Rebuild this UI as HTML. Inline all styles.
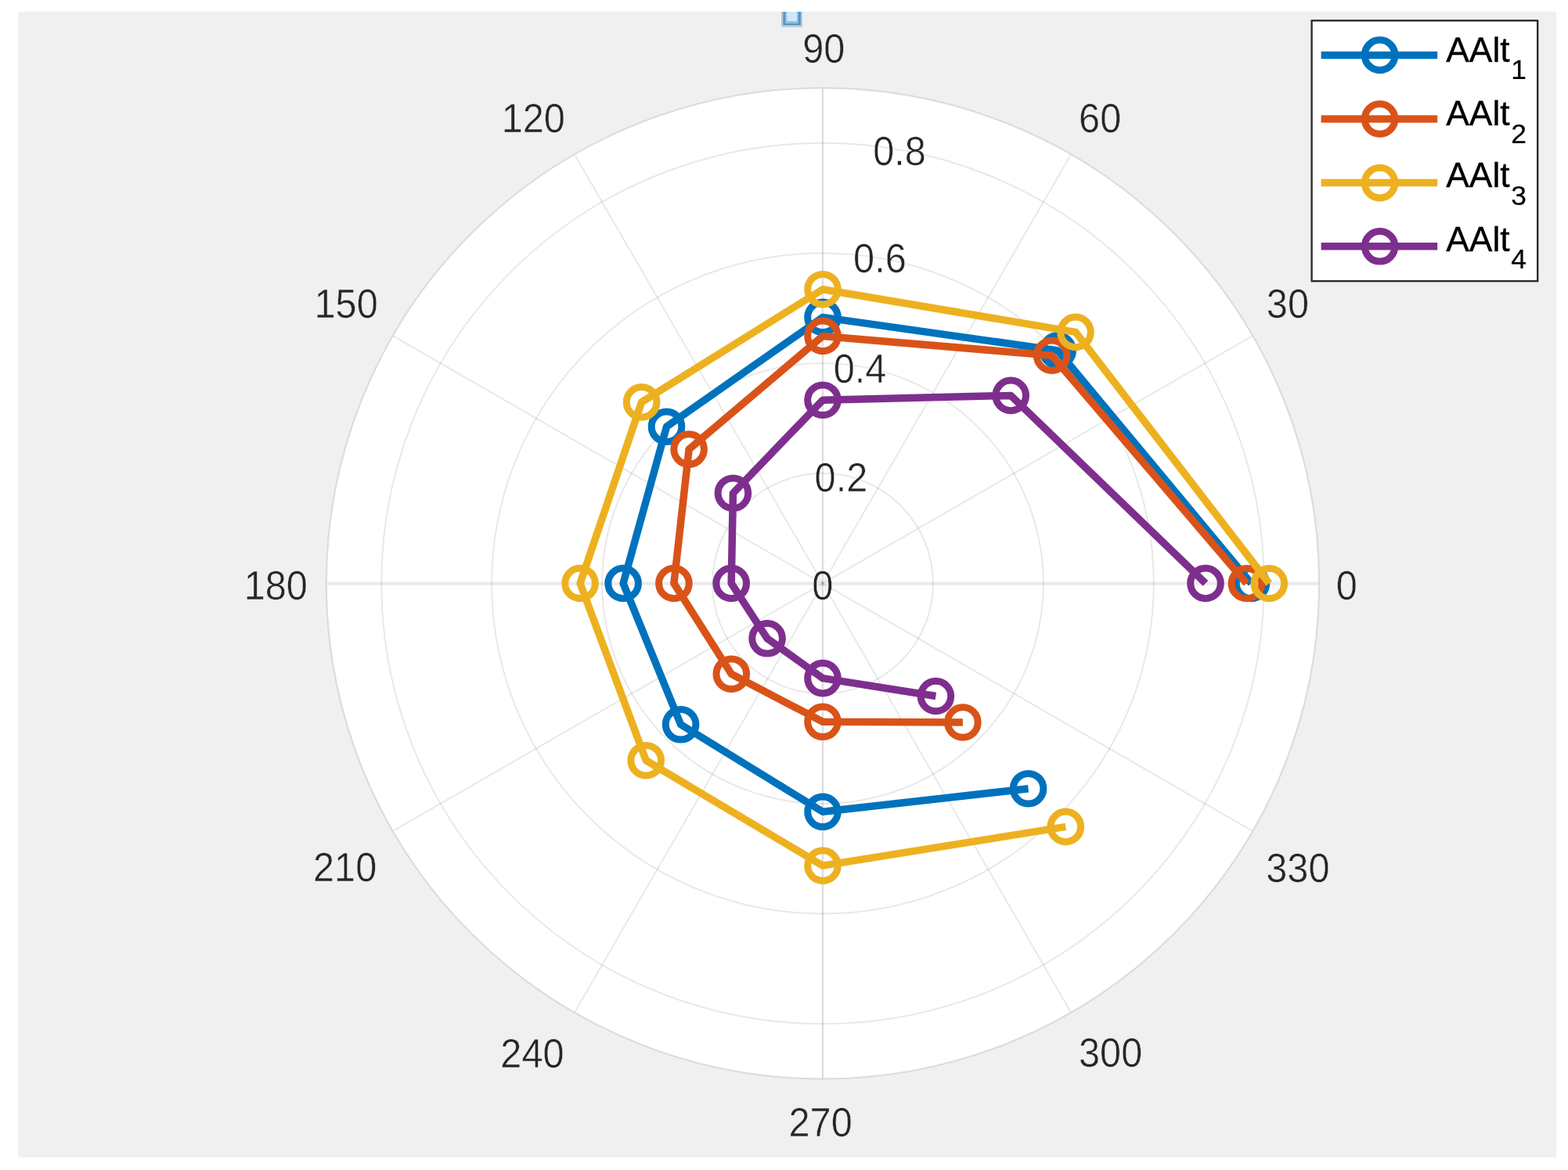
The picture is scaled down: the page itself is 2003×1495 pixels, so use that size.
<!DOCTYPE html>
<html lang="en"><head><meta charset="utf-8"><title>Polar plot</title>
<style>
html,body{margin:0;padding:0;background:#fff;}
body{width:2003px;height:1495px;overflow:hidden;position:relative;}
svg{position:absolute;left:0;top:0;display:block;}
text{font-family:"Liberation Sans",Arial,Helvetica,sans-serif;}
.tick{font-size:51px;fill:#262626;text-anchor:middle;stroke:#f0f0f0;stroke-width:0.5px;}
.rt{stroke:#fff;}
.leg{font-size:44px;fill:#000;stroke:#000;stroke-width:0.35px;}
.sub{font-size:35px;fill:#000;stroke:#000;stroke-width:0.2px;}
</style></head><body>
<svg width="2003" height="1495" viewBox="0 0 2003 1495">
<defs><clipPath id="figclip"><rect x="23" y="15" width="1965" height="1464"/></clipPath>
</defs>
<g>
<rect x="23" y="15" width="1965" height="1464" fill="#f0f0f0"/>
<g clip-path="url(#figclip)"><rect x="998" y="10" width="26.9" height="24.6" fill="#b4cade"/><rect x="1000.4" y="10" width="22.5" height="22.1" fill="#5a92bd"/><rect x="1003.05" y="10" width="16.85" height="20.1" fill="#93bfdf"/><rect x="1005.3" y="10" width="12.6" height="17.1" fill="#cde8fb"/></g>
<ellipse cx="1051" cy="745.5" rx="634.2" ry="633.1" fill="#fff"/>
<g fill="none" stroke="rgba(38,38,38,0.105)" stroke-width="1.9">
<ellipse cx="1051" cy="745.5" rx="140.93" ry="140.69"/>
<ellipse cx="1051" cy="745.5" rx="281.87" ry="281.38"/>
<ellipse cx="1051" cy="745.5" rx="422.80" ry="422.07"/>
<ellipse cx="1051" cy="745.5" rx="563.73" ry="562.76"/>
<line x1="1600.23" y1="428.95" x2="501.77" y2="1062.05"/>
<line x1="1368.10" y1="197.22" x2="733.90" y2="1293.78"/>
<line x1="733.90" y1="197.22" x2="1368.10" y2="1293.78"/>
<line x1="501.77" y1="428.95" x2="1600.23" y2="1062.05"/>
<line x1="1050.9" y1="112.40" x2="1050.9" y2="1378.60" stroke-width="2.2" stroke="rgba(38,38,38,0.16)"/>
<line x1="416.80" y1="745.6" x2="1685.20" y2="745.6" stroke-width="4.4" stroke="rgba(38,38,38,0.091)"/>
<ellipse cx="1051" cy="745.5" rx="634.2" ry="633.1" stroke-width="2.2" stroke="#dcdcdc"/>
</g>
</g>
<g>
<text class="tick" transform="translate(1720.3,766.2) scale(0.955,1)">0</text>
<text class="tick" transform="translate(1644.9,405.5) scale(0.955,1)">30</text>
<text class="tick" transform="translate(1405.2,168.8) scale(0.955,1)">60</text>
<text class="tick" transform="translate(1052.3,79.8) scale(0.955,1)">90</text>
<text class="tick" transform="translate(681.3,168.8) scale(0.955,1)">120</text>
<text class="tick" transform="translate(442.1,405.5) scale(0.955,1)">150</text>
<text class="tick" transform="translate(352.3,765.5) scale(0.955,1)">180</text>
<text class="tick" transform="translate(440.6,1126.2) scale(0.955,1)">210</text>
<text class="tick" transform="translate(680.0,1363.5) scale(0.955,1)">240</text>
<text class="tick" transform="translate(1048.1,1452.1) scale(0.955,1)">270</text>
<text class="tick" transform="translate(1418.6,1363.2) scale(0.955,1)">300</text>
<text class="tick" transform="translate(1657.9,1126.5) scale(0.955,1)">330</text>
<text class="tick rt" transform="translate(1050.9,765.9) scale(0.955,1)">0</text>
<text class="tick rt" transform="translate(1074.4,627.9) scale(0.955,1)">0.2</text>
<text class="tick rt" transform="translate(1098.5,489.1) scale(0.955,1)">0.4</text>
<text class="tick rt" transform="translate(1123.9,348.1) scale(0.955,1)">0.6</text>
<text class="tick rt" transform="translate(1149.0,210.9) scale(0.955,1)">0.8</text>
</g>
<g>
<g fill="none" stroke="#0072BD">
<polyline stroke-width="9.5" stroke-linejoin="round" points="1598.5,745.5 1351.2,447.9 1051.0,405.4 851.5,545.2 796.1,745.4 869.6,925.8 1051.0,1037.3 1313.6,1007.7"/>
<circle cx="1598.5" cy="745.5" r="19.3" stroke-width="9"/>
<circle cx="1351.2" cy="447.9" r="19.3" stroke-width="9"/>
<circle cx="1051.0" cy="405.4" r="19.3" stroke-width="9"/>
<circle cx="851.5" cy="545.2" r="19.3" stroke-width="9"/>
<circle cx="796.1" cy="745.4" r="19.3" stroke-width="9"/>
<circle cx="869.6" cy="925.8" r="19.3" stroke-width="9"/>
<circle cx="1051.0" cy="1037.3" r="19.3" stroke-width="9"/>
<circle cx="1313.6" cy="1007.7" r="19.3" stroke-width="9"/>
</g>
<g fill="none" stroke="#D95319">
<polyline stroke-width="9.5" stroke-linejoin="round" points="1592.4,745.5 1343.6,454.2 1051.0,429.4 880.1,574.1 860.9,745.4 934.3,861.2 1051.0,922.3 1229.9,923.0"/>
<circle cx="1592.4" cy="745.5" r="19.3" stroke-width="9"/>
<circle cx="1343.6" cy="454.2" r="19.3" stroke-width="9"/>
<circle cx="1051.0" cy="429.4" r="19.3" stroke-width="9"/>
<circle cx="880.1" cy="574.1" r="19.3" stroke-width="9"/>
<circle cx="860.9" cy="745.4" r="19.3" stroke-width="9"/>
<circle cx="934.3" cy="861.2" r="19.3" stroke-width="9"/>
<circle cx="1051.0" cy="922.3" r="19.3" stroke-width="9"/>
<circle cx="1229.9" cy="923.0" r="19.3" stroke-width="9"/>
</g>
<g fill="none" stroke="#EDB120">
<polyline stroke-width="9.5" stroke-linejoin="round" points="1621.3,745.5 1374.0,424.4 1051.0,369.7 819.6,513.9 741.1,745.4 825.2,971.7 1051.0,1106.1 1361.3,1056.4"/>
<circle cx="1621.3" cy="745.5" r="19.3" stroke-width="9"/>
<circle cx="1374.0" cy="424.4" r="19.3" stroke-width="9"/>
<circle cx="1051.0" cy="369.7" r="19.3" stroke-width="9"/>
<circle cx="819.6" cy="513.9" r="19.3" stroke-width="9"/>
<circle cx="741.1" cy="745.4" r="19.3" stroke-width="9"/>
<circle cx="825.2" cy="971.7" r="19.3" stroke-width="9"/>
<circle cx="1051.0" cy="1106.1" r="19.3" stroke-width="9"/>
<circle cx="1361.3" cy="1056.4" r="19.3" stroke-width="9"/>
</g>
<g fill="none" stroke="#7E2F8E">
<polyline stroke-width="9.5" stroke-linejoin="round" points="1540.0,745.4 1291.2,505.4 1051.0,511.2 936.4,630.2 934.2,745.4 980.1,815.8 1051.0,866.6 1195.4,889.5"/>
<circle cx="1540.0" cy="745.4" r="19.3" stroke-width="9"/>
<circle cx="1291.2" cy="505.4" r="19.3" stroke-width="9"/>
<circle cx="1051.0" cy="511.2" r="19.3" stroke-width="9"/>
<circle cx="936.4" cy="630.2" r="19.3" stroke-width="9"/>
<circle cx="934.2" cy="745.4" r="19.3" stroke-width="9"/>
<circle cx="980.1" cy="815.8" r="19.3" stroke-width="9"/>
<circle cx="1051.0" cy="866.6" r="19.3" stroke-width="9"/>
<circle cx="1195.4" cy="889.5" r="19.3" stroke-width="9"/>
</g>
</g>
<rect x="1675.6" y="26.3" width="288.6" height="332.9" fill="#fff" stroke="#262626" stroke-width="2.3"/>
<g fill="none" stroke="#0072BD"><line x1="1687.6" y1="70.4" x2="1836.2" y2="70.4" stroke-width="9.5"/><circle cx="1762.6" cy="70.4" r="19.3" stroke-width="9"/></g>
<text class="leg" transform="translate(1847.2,78.6) scale(1.01,1)">AAlt<tspan class="sub" x="82.18" dy="22.2">1</tspan></text>
<g fill="none" stroke="#D95319"><line x1="1687.6" y1="152" x2="1836.2" y2="152" stroke-width="9.5"/><circle cx="1762.6" cy="152" r="19.3" stroke-width="9"/></g>
<text class="leg" transform="translate(1847.2,160.2) scale(1.01,1)">AAlt<tspan class="sub" x="82.18" dy="22.4">2</tspan></text>
<g fill="none" stroke="#EDB120"><line x1="1687.6" y1="233.6" x2="1836.2" y2="233.6" stroke-width="9.5"/><circle cx="1762.6" cy="233.6" r="19.3" stroke-width="9"/></g>
<text class="leg" transform="translate(1847.2,239.4) scale(1.01,1)">AAlt<tspan class="sub" x="82.18" dy="23.0">3</tspan></text>
<g fill="none" stroke="#7E2F8E"><line x1="1687.6" y1="314.8" x2="1836.2" y2="314.8" stroke-width="9.5"/><circle cx="1762.6" cy="314.8" r="19.3" stroke-width="9"/></g>
<text class="leg" transform="translate(1847.2,320.6) scale(1.01,1)">AAlt<tspan class="sub" x="82.18" dy="22.0">4</tspan></text>
</svg>
</body></html>
